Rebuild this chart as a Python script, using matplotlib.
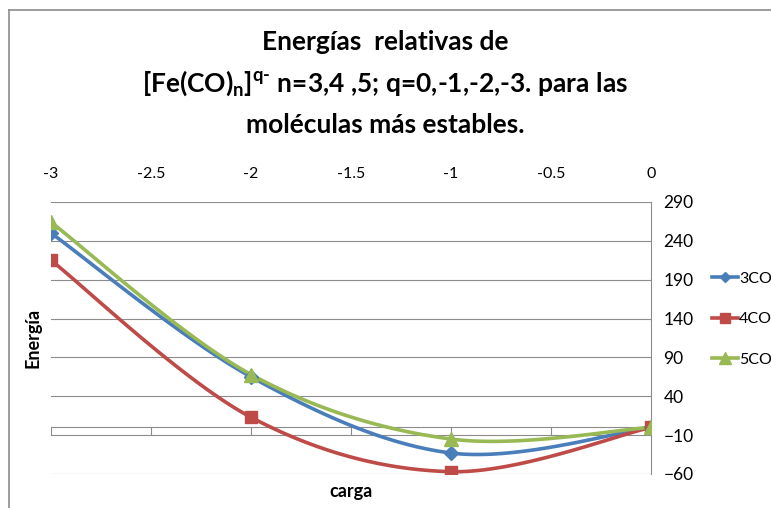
import numpy as np
import matplotlib.pyplot as plt
from matplotlib.lines import Line2D

plt.rcParams['font.family'] = ['Lato', 'DejaVu Sans']
plt.rcParams['mathtext.fontset'] = 'custom'
plt.rcParams['mathtext.rm'] = 'Lato:bold'

# charge q and relative energies
carga = [-3, -2, -1, 0]
e_3co = [250, 65, -33, 0]
e_4co = [215, 13, -57, 0]
e_5co = [264, 68, -15, 0]

series = [
    ('3CO', e_3co, '#4A7EBB', 'D', 7),
    ('4CO', e_4co, '#BE4B48', 's', 9),
    ('5CO', e_5co, '#98B954', '^', 10),
]

yticks = list(range(-60, 291, 50))
xticks = [-3, -2.5, -2, -1.5, -1, -0.5, 0]


def smooth(xs, ys, n=40):
    # Bezier smoothing through the points (Catmull-Rom style, like spreadsheet charts)
    p = np.column_stack([xs, ys]).astype(float)
    ext = np.vstack([p[0], p, p[-1]])
    out = []
    for i in range(len(p) - 1):
        p0, p1, p2, p3 = ext[i], ext[i + 1], ext[i + 2], ext[i + 3]
        c1 = p1 + (p2 - p0) / 6
        c2 = p2 - (p3 - p1) / 6
        t = np.linspace(0, 1, n)[:, None]
        seg = ((1 - t) ** 3) * p1 + 3 * ((1 - t) ** 2) * t * c1 + 3 * (1 - t) * t ** 2 * c2 + t ** 3 * p2
        out.append(seg if i == 0 else seg[1:])
    s = np.vstack(out)
    return s[:, 0], s[:, 1]


fig = plt.figure(figsize=(7.71, 5.08), dpi=100)
ax = fig.add_axes([51 / 771, 34 / 508, 600 / 771, 272 / 508])

grid_c = '#8C8C8C'
for v in yticks:
    ax.axhline(v, color=grid_c, lw=0.8, zorder=1)
ax.axhline(0, color=grid_c, lw=0.8, zorder=1)
ax.vlines(xticks, -10, 0, color=grid_c, lw=0.8, zorder=1)

handles = []
for name, vals, col, mk, ms in series:
    sx, sy = smooth(carga, vals)
    ax.plot(sx, sy, color=col, lw=2.6, zorder=3, solid_capstyle='round')
    ax.plot(carga, vals, linestyle='none', marker=mk, ms=ms, color=col, zorder=4)
    handles.append(Line2D([], [], color=col, lw=2.6, marker=mk, ms=ms * 0.8, label=name))

ax.set_xlim(-3, 0)
ax.set_ylim(-60, 290)
ax.set_yticks(yticks)
ax.set_xticks(xticks)
ax.set_xticklabels(['-3', '-2.5', '-2', '-1.5', '-1', '-0.5', '0'])
ax.xaxis.tick_top()
ax.yaxis.tick_right()
ax.tick_params(axis='x', length=0, pad=15, labelsize=11.5)
ax.tick_params(axis='y', length=0, pad=9, labelsize=12.5)
for s in ['left', 'top', 'bottom']:
    ax.spines[s].set_visible(False)
ax.spines['right'].set_color(grid_c)
ax.spines['right'].set_linewidth(0.8)

fig.text(33 / 771, 1 - 338 / 508, 'Energía', rotation=90, ha='center', va='center',
         fontsize=13, fontweight='bold')
fig.text(351 / 771, 1 - 492 / 508, 'carga', ha='center', va='center',
         fontsize=13, fontweight='bold')

title_lines = [
    'Energías  relativas de',
    r'[Fe(CO)$_\mathregular{n}$]$^\text{q-}$ n=3,4 ,5; q=0,-1,-2,-3. para las',
    'moléculas más estables.',
]
for i, line in enumerate(title_lines):
    fig.text(385 / 771, 1 - (42 + 41.5 * i) / 508, line, ha='center', va='center',
             fontsize=19, fontweight='bold')

fig.legend(handles=handles, loc='center left', bbox_to_anchor=(704 / 771, 1 - 319 / 508),
           frameon=False, fontsize=11.5, handlelength=1.6, handletextpad=0.1,
           labelspacing=1.65, borderpad=0)

# outer chart frame
fig.add_artist(Line2D([9 / 771, 9 / 771], [0, 1 - 10 / 508], color='#8C8C8C', lw=1.2))
fig.add_artist(Line2D([9 / 771, 1], [1 - 10 / 508, 1 - 10 / 508], color='#8C8C8C', lw=1.2))

fig.savefig('out.png', dpi=100)
